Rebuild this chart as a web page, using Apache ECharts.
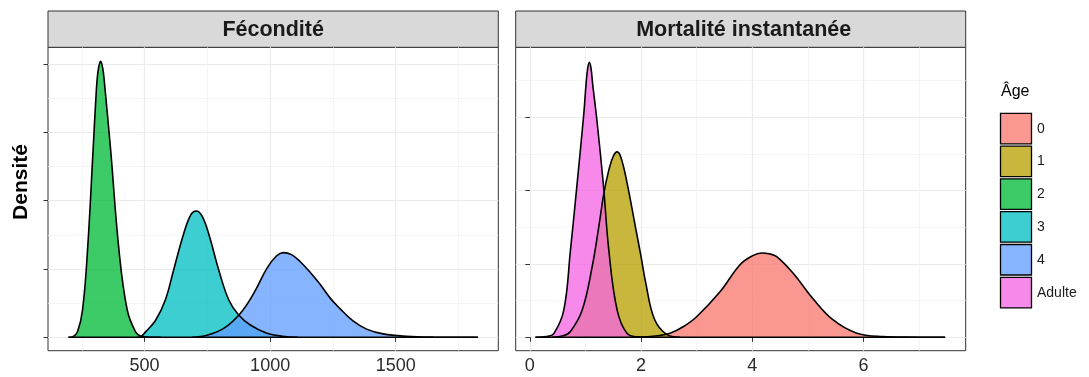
<!DOCTYPE html>
<html>
<head>
<meta charset="utf-8">
<script src="https://cdn.jsdelivr.net/npm/echarts@6/dist/echarts.min.js"></script>
<style>
html,body{margin:0;padding:0;background:#fff;}
#chart{width:1089px;height:377px;}
</style>
</head>
<body>
<div id="chart"></div>
<script>
// ---- Data ----
const panelTitles = ['Fécondité', 'Mortalité instantanée'];
const ageCategories = ['0', '1', '2', '3', '4', 'Adulte'];
const legendTitle = 'Âge';
const yTitle = 'Densité';

// Fécondité panel: x tick labels
const fecTicks = [500, 1000, 1500];
const fecMinorTicks = [250, 750, 1250, 1750];
// Mortalité panel: x tick labels
const morTicks = [0, 2, 4, 6];
const morMinorTicks = [1, 3, 5, 7];

// Age 2 (Fécondité)
const age2X = [197, 215, 233, 253, 273, 295, 308, 314, 320, 325, 330, 336, 342, 365, 398, 431, 464, 484, 510, 540, 565];
const age2Y = [0, 0.01, 0.08, 0.40, 1.28, 2.74, 3.62, 3.88, 4.00, 4.04, 4.00, 3.88, 3.66, 2.74, 1.28, 0.40, 0.08, 0.02, 0.005, 0.001, 0];
// Age 3 (Fécondité)
const age3X = [470, 485, 504, 544, 583, 616, 656, 685, 706, 728, 755, 795, 835, 874, 921, 987, 1050, 1110];
const age3Y = [0, 0.01, 0.08, 0.25, 0.55, 0.99, 1.52, 1.80, 1.85, 1.78, 1.52, 0.99, 0.55, 0.33, 0.18, 0.06, 0.015, 0];
// Age 4 (Fécondité)
const age4X = [690, 749, 815, 881, 934, 987, 1025, 1053, 1085, 1119, 1160, 1198, 1240, 1278, 1330, 1384, 1450, 1542, 1650, 1827];
const age4Y = [0, 0.03, 0.13, 0.35, 0.64, 1.01, 1.19, 1.24, 1.21, 1.11, 0.95, 0.78, 0.57, 0.42, 0.24, 0.12, 0.05, 0.015, 0.003, 0];

// Age 0 (Mortalité)
const age0X = [2.0, 2.3, 2.52, 2.75, 3.00, 3.42, 3.78, 4.00, 4.17, 4.30, 4.44, 4.74, 5.09, 5.45, 5.87, 6.35, 6.8, 7.47];
const age0Y = [0, 0.02, 0.055, 0.14, 0.28, 0.62, 0.99, 1.11, 1.15, 1.14, 1.10, 0.87, 0.53, 0.24, 0.06, 0.01, 0.002, 0];
// Age 1 (Mortalité)
const age1X = [0.40, 0.60, 0.73, 0.94, 1.12, 1.24, 1.33, 1.42, 1.50, 1.57, 1.64, 1.75, 1.90, 2.00, 2.08, 2.24, 2.46, 2.70];
const age1Y = [0, 0.02, 0.08, 0.37, 0.96, 1.51, 1.96, 2.28, 2.47, 2.53, 2.45, 2.10, 1.50, 1.10, 0.76, 0.25, 0.04, 0];
// Adulte (Mortalité)
const adulteX = [0.10, 0.30, 0.43, 0.61, 0.73, 0.85, 0.97, 1.01, 1.04, 1.07, 1.10, 1.13, 1.20, 1.32, 1.42, 1.57, 1.75, 1.95, 2.10];
const adulteY = [0, 0.01, 0.05, 0.37, 1.19, 2.10, 3.05, 3.45, 3.67, 3.75, 3.67, 3.45, 3.00, 2.10, 1.19, 0.37, 0.05, 0.005, 0];

// ---- Styling ----
const FONT = 'Liberation Sans, Arial, sans-serif';
const fills = {
  '0': 'rgba(248,118,109,0.76)',
  '1': 'rgba(183,159,0,0.76)',
  '2': 'rgba(0,186,56,0.76)',
  '3': 'rgba(0,191,196,0.76)',
  '4': 'rgba(97,156,255,0.76)',
  'Adulte': 'rgba(245,100,227,0.76)'
};

function pairs(xs, ys) { return xs.map((x, i) => [x, ys[i]]); }

const gridL = { left: 48, top: 47.3, width: 450.3, height: 303.4 };
const gridR = { left: 515.7, top: 47.3, width: 450, height: 303.4 };

const fecRange = [115.5, 1908.5];
const morRange = [-0.255, 7.84];
const fecY = [-0.196, 4.246];
const morY = [-0.183, 3.956];

function majorX(grid, range, ticks) {
  return {
    type: 'value', gridIndex: grid, min: range[0], max: range[1],
    axisLine: { show: false },
    axisTick: { show: true, length: 4.5, customValues: ticks, lineStyle: { color: '#333', width: 1 } },
    axisLabel: { show: true, customValues: ticks, margin: 6, fontSize: 18, color: '#2b2b2b', fontFamily: FONT,
      formatter: function (v) { return String(v); } },
    splitLine: { show: true, lineStyle: { color: '#EBEBEB', width: 1.2 } }
  };
}
function minorX(grid, range, ticks) {
  return {
    type: 'value', gridIndex: grid, min: range[0], max: range[1],
    axisLine: { show: false },
    axisTick: { show: false, customValues: ticks },
    axisLabel: { show: false, customValues: ticks },
    splitLine: { show: true, lineStyle: { color: '#F3F3F3', width: 0.8 } }
  };
}
function majorY(grid, range, ticks) {
  return {
    type: 'value', gridIndex: grid, min: range[0], max: range[1],
    axisLine: { show: false },
    axisTick: { show: true, length: 4.5, customValues: ticks, lineStyle: { color: '#333', width: 1 } },
    axisLabel: { show: false, customValues: ticks },
    splitLine: { show: true, lineStyle: { color: '#EBEBEB', width: 1.2 } }
  };
}
function minorY(grid, range, ticks) {
  return {
    type: 'value', gridIndex: grid, min: range[0], max: range[1],
    axisLine: { show: false },
    axisTick: { show: false, customValues: ticks },
    axisLabel: { show: false, customValues: ticks },
    splitLine: { show: true, lineStyle: { color: '#F3F3F3', width: 0.8 } }
  };
}

function densitySeries(name, xs, ys, xi, yi) {
  return {
    name: name, type: 'line', xAxisIndex: xi, yAxisIndex: yi,
    data: pairs(xs, ys), smooth: 0.4, symbol: 'none', showSymbol: false,
    lineStyle: { color: '#000', width: 1.6 },
    itemStyle: { color: fills[name] },
    areaStyle: { color: fills[name], opacity: 1, origin: 0 },
    emphasis: { disabled: true }, silent: true, animation: false
  };
}
function baseline(xArrays, xi, yi) {
  const all = [].concat(...xArrays);
  return {
    type: 'line', xAxisIndex: xi, yAxisIndex: yi,
    data: [[Math.min(...all), 0], [Math.max(...all), 0]],
    symbol: 'none', lineStyle: { color: '#000', width: 1.6 }, silent: true, animation: false, z: 3
  };
}

// Legend keys (ggplot-style boxes)
const legendGraphics = [];
ageCategories.forEach(function (name, i) {
  const top = 113.3 + i * 32.8;
  legendGraphics.push({ type: 'rect', shape: { x: 1000.5, y: top, width: 31, height: 30.5 },
    style: { fill: fills[name], stroke: '#000', lineWidth: 1.3 }, silent: true });
  legendGraphics.push({ type: 'text', x: 1037, y: top + 15.5,
    style: { text: name, fill: '#1a1a1a', font: '14px ' + FONT, textAlign: 'left', textVerticalAlign: 'middle' }, silent: true });
});

const chart = echarts.init(document.getElementById('chart'), null, { renderer: 'canvas' });
const option = {
  animation: false,
  backgroundColor: '#fff',
  grid: [
    Object.assign({ show: true, borderColor: '#333', borderWidth: 1, backgroundColor: '#fff' }, gridL),
    Object.assign({ show: true, borderColor: '#333', borderWidth: 1, backgroundColor: '#fff' }, gridR)
  ],
  xAxis: [
    majorX(0, fecRange, fecTicks),
    minorX(0, fecRange, fecMinorTicks),
    majorX(1, morRange, morTicks),
    minorX(1, morRange, morMinorTicks)
  ],
  yAxis: [
    majorY(0, fecY, [0, 1, 2, 3, 4]),
    minorY(0, fecY, [0.5, 1.5, 2.5, 3.5]),
    majorY(1, morY, [0, 1, 2, 3]),
    minorY(1, morY, [0.5, 1.5, 2.5, 3.5])
  ],
  series: [
    densitySeries('2', age2X, age2Y, 0, 0),
    densitySeries('3', age3X, age3Y, 0, 0),
    densitySeries('4', age4X, age4Y, 0, 0),
    baseline([age2X, age3X, age4X], 0, 0),
    densitySeries('0', age0X, age0Y, 2, 2),
    densitySeries('1', age1X, age1Y, 2, 2),
    densitySeries('Adulte', adulteX, adulteY, 2, 2),
    baseline([age0X, age1X, adulteX], 2, 2)
  ],
  graphic: [
    { type: 'rect', shape: { x: gridL.left, y: 11, width: gridL.width, height: 36.3 },
      style: { fill: '#D9D9D9', stroke: '#333', lineWidth: 1 }, silent: true },
    { type: 'rect', shape: { x: gridR.left, y: 11, width: gridR.width, height: 36.3 },
      style: { fill: '#D9D9D9', stroke: '#333', lineWidth: 1 }, silent: true },
    { type: 'text', x: gridL.left + gridL.width / 2, y: 30,
      style: { text: panelTitles[0], fill: '#1a1a1a', font: 'bold 21.5px ' + FONT, textAlign: 'center', textVerticalAlign: 'middle' } },
    { type: 'text', x: gridR.left + gridR.width / 2 + 3, y: 30,
      style: { text: panelTitles[1], fill: '#1a1a1a', font: 'bold 21.5px ' + FONT, textAlign: 'center', textVerticalAlign: 'middle' } },
    { type: 'text', x: 21, y: 182, rotation: Math.PI / 2,
      style: { text: yTitle, fill: '#000', font: 'bold 21px ' + FONT, textAlign: 'center', textVerticalAlign: 'middle' } },
    { type: 'text', x: 1001, y: 92,
      style: { text: legendTitle, fill: '#000', font: '16px ' + FONT, textAlign: 'left', textVerticalAlign: 'middle' } }
  ].concat(legendGraphics)
};
chart.setOption(option);
</script>
</body>
</html>
